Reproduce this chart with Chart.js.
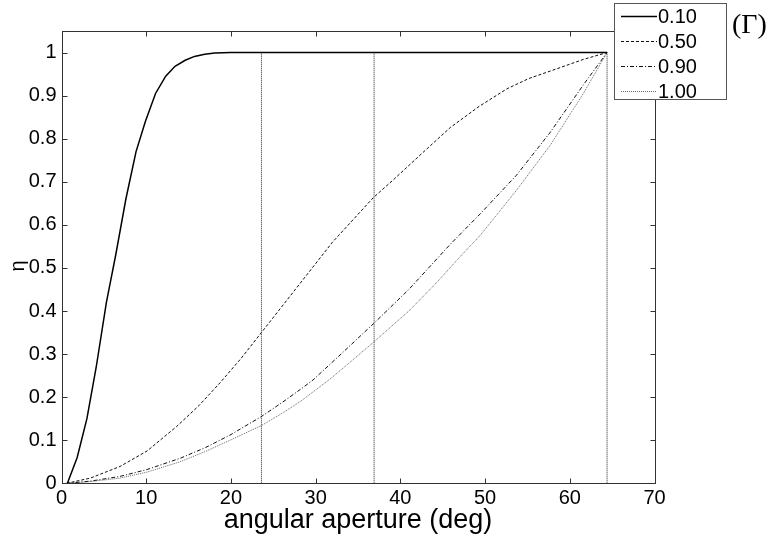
<!DOCTYPE html>
<html lang="en">

<head>
    <meta charset="UTF-8">
    <title>Collection efficiency vs angular aperture</title>
    <script src="https://cdn.jsdelivr.net/npm/chart.js@4.4.0/dist/chart.umd.min.js"></script>
    <style>
        body { margin: 0; background: #fff; }
        #wrap { position: relative; width: 773px; height: 540px; }
        #gamma {
            position: absolute; left: 732px; top: 8px;
            font-family: "Liberation Serif", "Times New Roman", serif;
            font-size: 28px; color: #000;
        }
    </style>
</head>

<body>
    <div id="wrap">
        <canvas id="myChart" width="773" height="540"></canvas>
        <div id="gamma">(Γ)</div>
    </div>
    <script>
        // values (angle in deg, eta)
        var angles010 = [0.7, 1.85, 3.0, 4.1, 5.3, 6.4, 7.6, 8.8, 9.9, 11.1, 12.3, 13.4, 14.6, 15.7, 16.9, 18.1, 20, 64.4];
        var eta010 = [0, 0.06, 0.15, 0.27, 0.42, 0.53, 0.66, 0.77, 0.84, 0.905, 0.945, 0.968, 0.982, 0.991, 0.996, 0.999, 1, 1];

        var angles050 = [0.6, 3.4, 6.9, 10.1, 13.6, 16.2, 18.7, 21.2, 23.6, 25.8, 28.2, 32, 36.8, 39.2, 42.5, 45.9, 49.3, 52.6, 55.2, 57.7, 61.6, 64.4];
        var eta050 = [0, 0.012, 0.039, 0.075, 0.132, 0.18, 0.233, 0.29, 0.35, 0.405, 0.465, 0.56, 0.663, 0.705, 0.765, 0.826, 0.875, 0.916, 0.94, 0.957, 0.984, 1.0];

        var angles090 = [0.6, 3.4, 6.9, 10.1, 14, 17, 19.9, 23.6, 26, 28.2, 29.7, 33, 36.8, 41, 45.9, 49.4, 53.7, 57.7, 61.6, 64.4];
        var eta090 = [0, 0.005, 0.016, 0.032, 0.058, 0.083, 0.112, 0.155, 0.187, 0.218, 0.24, 0.30, 0.37, 0.45, 0.555, 0.625, 0.715, 0.815, 0.925, 1.0];

        var angles100 = [0.6, 3.4, 6.9, 10.1, 14, 17, 19.9, 23.6, 26, 28.2, 31.7, 34, 36.8, 41, 44, 47, 49.4, 53.7, 57.7, 61.6, 64.4];
        var eta100 = [0, 0.004, 0.012, 0.026, 0.05, 0.074, 0.10, 0.134, 0.162, 0.19, 0.242, 0.28, 0.327, 0.40, 0.46, 0.525, 0.575, 0.68, 0.785, 0.905, 1.0];

        // vertical dotted markers
        var markerAngles = [23.6, 36.9, 64.4];

        var xTicks = [0, 10, 20, 30, 40, 50, 60, 70];
        var yTicks = [0, 0.1, 0.2, 0.3, 0.4, 0.5, 0.6, 0.7, 0.8, 0.9, 1];

        function pts(xs, ys) {
            return xs.map(function (v, i) { return { x: v, y: ys[i] }; });
        }

        var datasets = [
            { label: "0.10", data: pts(angles010, eta010), borderColor: "#000", borderWidth: 1.5, borderDash: [] },
            { label: "0.50", data: pts(angles050, eta050), borderColor: "#111", borderWidth: 1, borderDash: [3, 2] },
            { label: "0.90", data: pts(angles090, eta090), borderColor: "#111", borderWidth: 1, borderDash: [4, 2, 1, 2] },
            { label: "1.00", data: pts(angles100, eta100), borderColor: "#666", borderWidth: 1, borderDash: [1, 1] }
        ];
        markerAngles.forEach(function (a) {
            datasets.push({ label: "", marker: true, data: [{ x: a, y: 0 }, { x: a, y: 1 }], borderColor: "#222", borderWidth: 1, borderDash: [1, 1] });
        });
        datasets.forEach(function (d) { d.pointRadius = 0; d.tension = 0; d.fill = false; });

        // matlab style box, inward ticks, y label and legend
        var framePlugin = {
            id: "frame",
            afterDatasetsDraw: function (chart) {
                var ctx = chart.ctx, a = chart.chartArea;
                var x = chart.scales.x, y = chart.scales.y;
                var L = Math.round(a.left) + 0.5, R = Math.round(a.right) + 0.5;
                var T = Math.round(a.top) + 0.5, B = Math.round(a.bottom) + 0.5;
                ctx.save();
                ctx.strokeStyle = "#333";
                ctx.lineWidth = 1;
                ctx.setLineDash([]);
                ctx.strokeRect(L, T, R - L, B - T);
                ctx.beginPath();
                xTicks.forEach(function (v) {
                    var px = Math.round(x.getPixelForValue(v)) + 0.5;
                    ctx.moveTo(px, B); ctx.lineTo(px, B - 5);
                    ctx.moveTo(px, T); ctx.lineTo(px, T + 5);
                });
                yTicks.forEach(function (v) {
                    var py = Math.round(y.getPixelForValue(v)) + 0.5;
                    ctx.moveTo(L, py); ctx.lineTo(L + 5, py);
                    ctx.moveTo(R, py); ctx.lineTo(R - 5, py);
                });
                ctx.stroke();

                // y axis label
                ctx.save();
                ctx.translate(18, 266);
                ctx.rotate(-Math.PI / 2);
                ctx.font = "20px 'Liberation Sans', Arial, sans-serif";
                ctx.textAlign = "center";
                ctx.textBaseline = "middle";
                ctx.fillStyle = "#000";
                ctx.fillText("η", 0, 0);
                ctx.restore();

                // legend box
                var bx = 614.5, by = 3.5, bw = 112, bh = 96;
                ctx.fillStyle = "#fff";
                ctx.fillRect(bx, by, bw, bh);
                ctx.strokeStyle = "#555";
                ctx.strokeRect(bx, by, bw, bh);
                ctx.font = "20px 'Liberation Sans', Arial, sans-serif";
                ctx.textBaseline = "middle";
                ctx.fillStyle = "#000";
                var rows = chart.data.datasets.filter(function (d) { return !d.marker; });
                rows.forEach(function (d, i) {
                    var ry = Math.round(16 + i * 25) + 0.5;
                    ctx.strokeStyle = d.borderColor;
                    ctx.lineWidth = d.borderWidth;
                    ctx.setLineDash(d.borderDash);
                    ctx.beginPath();
                    ctx.moveTo(621, ry); ctx.lineTo(657, ry);
                    ctx.stroke();
                    ctx.fillText(d.label, 658, ry + 1);
                });
                ctx.restore();
            }
        };

        Chart.defaults.font.family = "'Liberation Sans', Arial, sans-serif";
        Chart.defaults.color = "#000";

        var ctx = document.getElementById("myChart").getContext("2d");
        var chart = new Chart(ctx, {
            type: "line",
            data: { datasets: datasets },
            options: {
                responsive: false,
                animation: false,
                layout: { padding: { left: 0, top: 31, right: 118.5, bottom: 0 } },
                plugins: { legend: { display: false }, tooltip: { enabled: false } },
                scales: {
                    x: {
                        type: "linear", min: 0, max: 70,
                        grid: { display: false, drawTicks: false },
                        border: { display: false },
                        ticks: { font: { size: 20 }, padding: 3, maxRotation: 0 },
                        afterBuildTicks: function (s) { s.ticks = xTicks.map(function (v) { return { value: v }; }); },
                        title: { display: true, text: "angular aperture (deg)", font: { size: 27 }, padding: { top: 0, bottom: 3 } },
                        afterFit: function (s) { s.height = 56.7; }
                    },
                    y: {
                        min: 0, max: 1.05,
                        grid: { display: false, drawTicks: false },
                        border: { display: false },
                        ticks: {
                            font: { size: 20 }, padding: 5,
                            callback: function (v) { return String(Math.round(v * 10) / 10); }
                        },
                        afterBuildTicks: function (s) { s.ticks = yTicks.map(function (v) { return { value: v }; }); },
                        afterFit: function (s) { s.width = 61.5; }
                    }
                }
            },
            plugins: [framePlugin]
        });
    </script>
</body>

</html>
